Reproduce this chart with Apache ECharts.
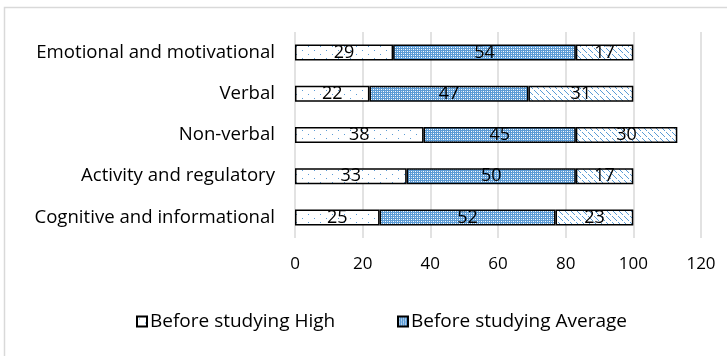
<!DOCTYPE html>
<html>
<head>
<meta charset="utf-8">
<script src="https://cdn.jsdelivr.net/npm/echarts@6/dist/echarts.min.js"></script>
<style>html,body{margin:0;padding:0;background:#fff;}#c{width:727px;height:356px;}</style>
</head>
<body>
<div id="c"></div>
<script>
var categories = ['Emotional and motivational', 'Verbal', 'Non-verbal', 'Activity and regulatory', 'Cognitive and informational'];
var seriesNames = ['Before studying High', 'Before studying Average', 'Before studying Low'];
var highValues = [29, 22, 38, 33, 25];
var averageValues = [54, 47, 45, 50, 52];
var lowValues = [17, 31, 30, 17, 23];
var xTicks = { min: 0, max: 120, interval: 20 };

var FONT = 'Open Sans';
var BLUE = '#5b9bd5';

function makePattern(w, h, draw) {
  var c = document.createElement('canvas');
  c.width = w; c.height = h;
  var ctx = c.getContext('2d');
  draw(ctx);
  return { image: c, repeat: 'repeat' };
}
var pDots = makePattern(12, 8, function (ctx) {
  ctx.fillStyle = '#fff'; ctx.fillRect(0, 0, 12, 8);
  ctx.fillStyle = BLUE;
  ctx.fillRect(2, 2, 1, 1); ctx.fillRect(8, 6, 1, 1);
});
var pCheck = makePattern(4, 4, function (ctx) {
  ctx.fillStyle = BLUE; ctx.fillRect(0, 0, 4, 4);
  ctx.fillStyle = '#fff';
  ctx.fillRect(1, 1, 1, 1); ctx.fillRect(3, 3, 1, 1);
  ctx.fillStyle = '#cfe0f2';
  ctx.fillRect(1, 3, 1, 1); ctx.fillRect(3, 1, 1, 1);
});
var pDiag = makePattern(6, 6, function (ctx) {
  ctx.fillStyle = '#fff'; ctx.fillRect(0, 0, 6, 6);
  ctx.fillStyle = BLUE;
  for (var i = 0; i < 6; i += 1) { if (i !== 5) ctx.fillRect(i, i, 1, 1); }
});

var labelStyle = { show: true, position: 'inside', color: '#000', fontFamily: FONT, fontSize: 18, textBorderWidth: 0 };
function mk(name, data, pat) {
  return {
    name: name, type: 'bar', stack: 'total', data: data, barWidth: 16,
    itemStyle: { color: pat, borderColor: '#000', borderWidth: 1.5 },
    label: labelStyle,
    emphasis: { disabled: true }
  };
}
function legendFor(name, left) {
  return { data: [name], left: left, top: 312, padding: 0, itemWidth: 10, itemHeight: 10, icon: 'rect', itemGap: 4,
    textStyle: { fontFamily: FONT, fontSize: 19, color: '#000', padding: [0, 0, 0, -2] } };
}

var chart = echarts.init(document.getElementById('c'), null, { renderer: 'canvas' });
chart.setOption({
  animation: false,
  backgroundColor: '#fff',
  textStyle: { fontFamily: FONT },
  graphic: [{ type: 'rect', shape: { x: 4.5, y: 7.5, width: 800, height: 400 }, style: { fill: 'none', stroke: '#d9d9d9', lineWidth: 1.5 }, silent: true }],
  grid: { left: 295, right: 26, top: 32, bottom: 118, containLabel: false },
  legend: [legendFor(seriesNames[0], 136), legendFor(seriesNames[1], 397)],
  xAxis: {
    type: 'value', min: xTicks.min, max: xTicks.max, interval: xTicks.interval,
    axisLine: { show: false }, axisTick: { show: false },
    splitLine: { show: true, lineStyle: { color: '#d9d9d9', width: 1.5 } },
    axisLabel: { color: '#000', fontFamily: FONT, fontSize: 17, margin: 18 }
  },
  yAxis: {
    type: 'category', data: categories, inverse: true,
    axisLine: { show: false }, axisTick: { show: false },
    axisLabel: { color: '#000', fontFamily: FONT, fontSize: 18.6, margin: 20 }
  },
  series: [
    mk(seriesNames[0], highValues, pDots),
    mk(seriesNames[1], averageValues, pCheck),
    mk(seriesNames[2], lowValues, pDiag)
  ]
});
</script>
</body>
</html>
